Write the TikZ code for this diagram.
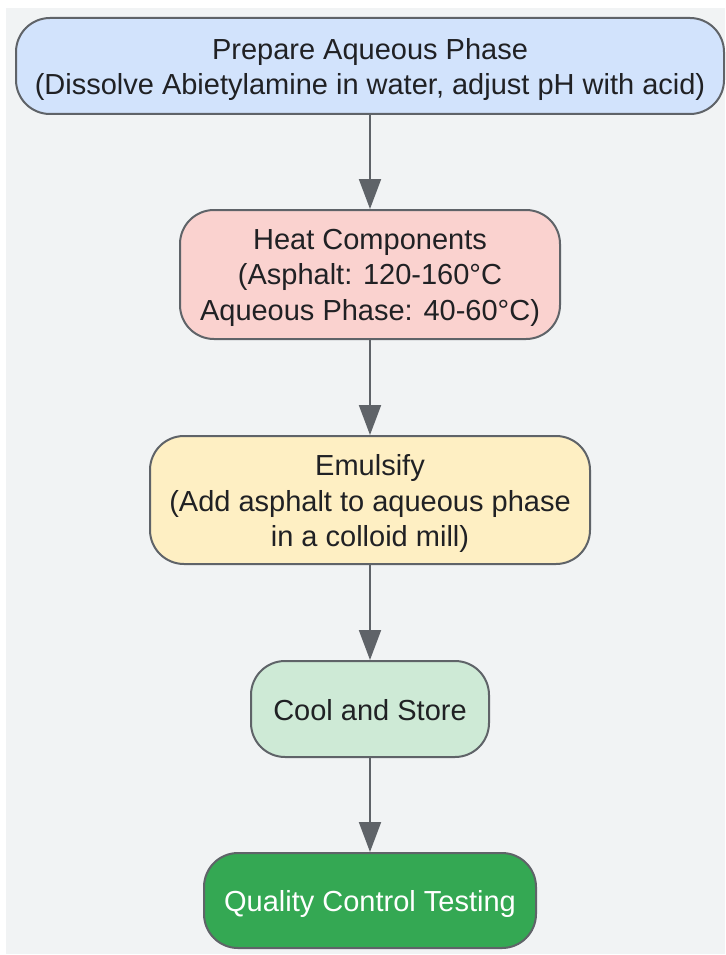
\documentclass[tikz,border=0pt]{standalone}
\usepackage{fontspec}
\setmainfont{Liberation Sans}
\usetikzlibrary{arrows.meta}
\definecolor{bg}{HTML}{F1F3F4}
\definecolor{stroke}{HTML}{5F6368}
\definecolor{txt}{HTML}{202124}
\definecolor{fblue}{HTML}{D2E3FC}
\definecolor{fpink}{HTML}{FAD2CF}
\definecolor{fyellow}{HTML}{FEEFC3}
\definecolor{fltgreen}{HTML}{CEEAD6}
\definecolor{fgreen}{HTML}{34A853}
\tikzset{
  stepbox/.style={draw=stroke, line width=2pt, rounded corners=34pt, inner sep=0pt},
  steptext/.style={align=center, text=txt, inner sep=0pt, font=\fontsize{29}{35.5}\selectfont},
  conn/.style={draw=stroke, line width=2pt, -{Triangle[length=30pt,width=22pt]}}
}
\begin{document}
\begin{tikzpicture}[x=1pt,y=-1pt]
\useasboundingbox (0,0) rectangle (725,955);
\fill[bg] (6,8) rectangle (725,954);
\node[stepbox, fill=fblue, minimum width=708pt, minimum height=96pt] (n1) at (370,66) {};
\node[steptext] (t1) at (370,69.5)
  {Prepare Aqueous Phase\\(Dissolve Abietylamine in water, adjust pH with acid)};
\node[stepbox, fill=fpink, minimum width=380pt, minimum height=129pt] (n2) at (370,274.5) {};
\node[steptext] (t2) at (370,277.5)
  {Heat Components\\(Asphalt: 120-160°C\\Aqueous Phase: 40-60°C)};
\node[stepbox, fill=fyellow, minimum width=440pt, minimum height=128pt] (n3) at (370,500) {};
\node[steptext] (t3) at (370,503.5)
  {Emulsify\\(Add asphalt to aqueous phase\\in a colloid mill)};
\node[stepbox, fill=fltgreen, minimum width=238pt, minimum height=96pt] (n4) at (370,709) {};
\node[steptext] (t4) at (370,710) {Cool and Store};
\node[stepbox, fill=fgreen, minimum width=332pt, minimum height=95pt] (n5) at (370,900.5) {};
\node[steptext, text=white] (t5) at (370,903.5) {Quality Control Testing};
\draw[conn] (n1) -- (n2);
\draw[conn] (n2) -- (n3);
\draw[conn] (n3) -- (n4);
\draw[conn] (n4) -- (n5);
\end{tikzpicture}
\end{document}
